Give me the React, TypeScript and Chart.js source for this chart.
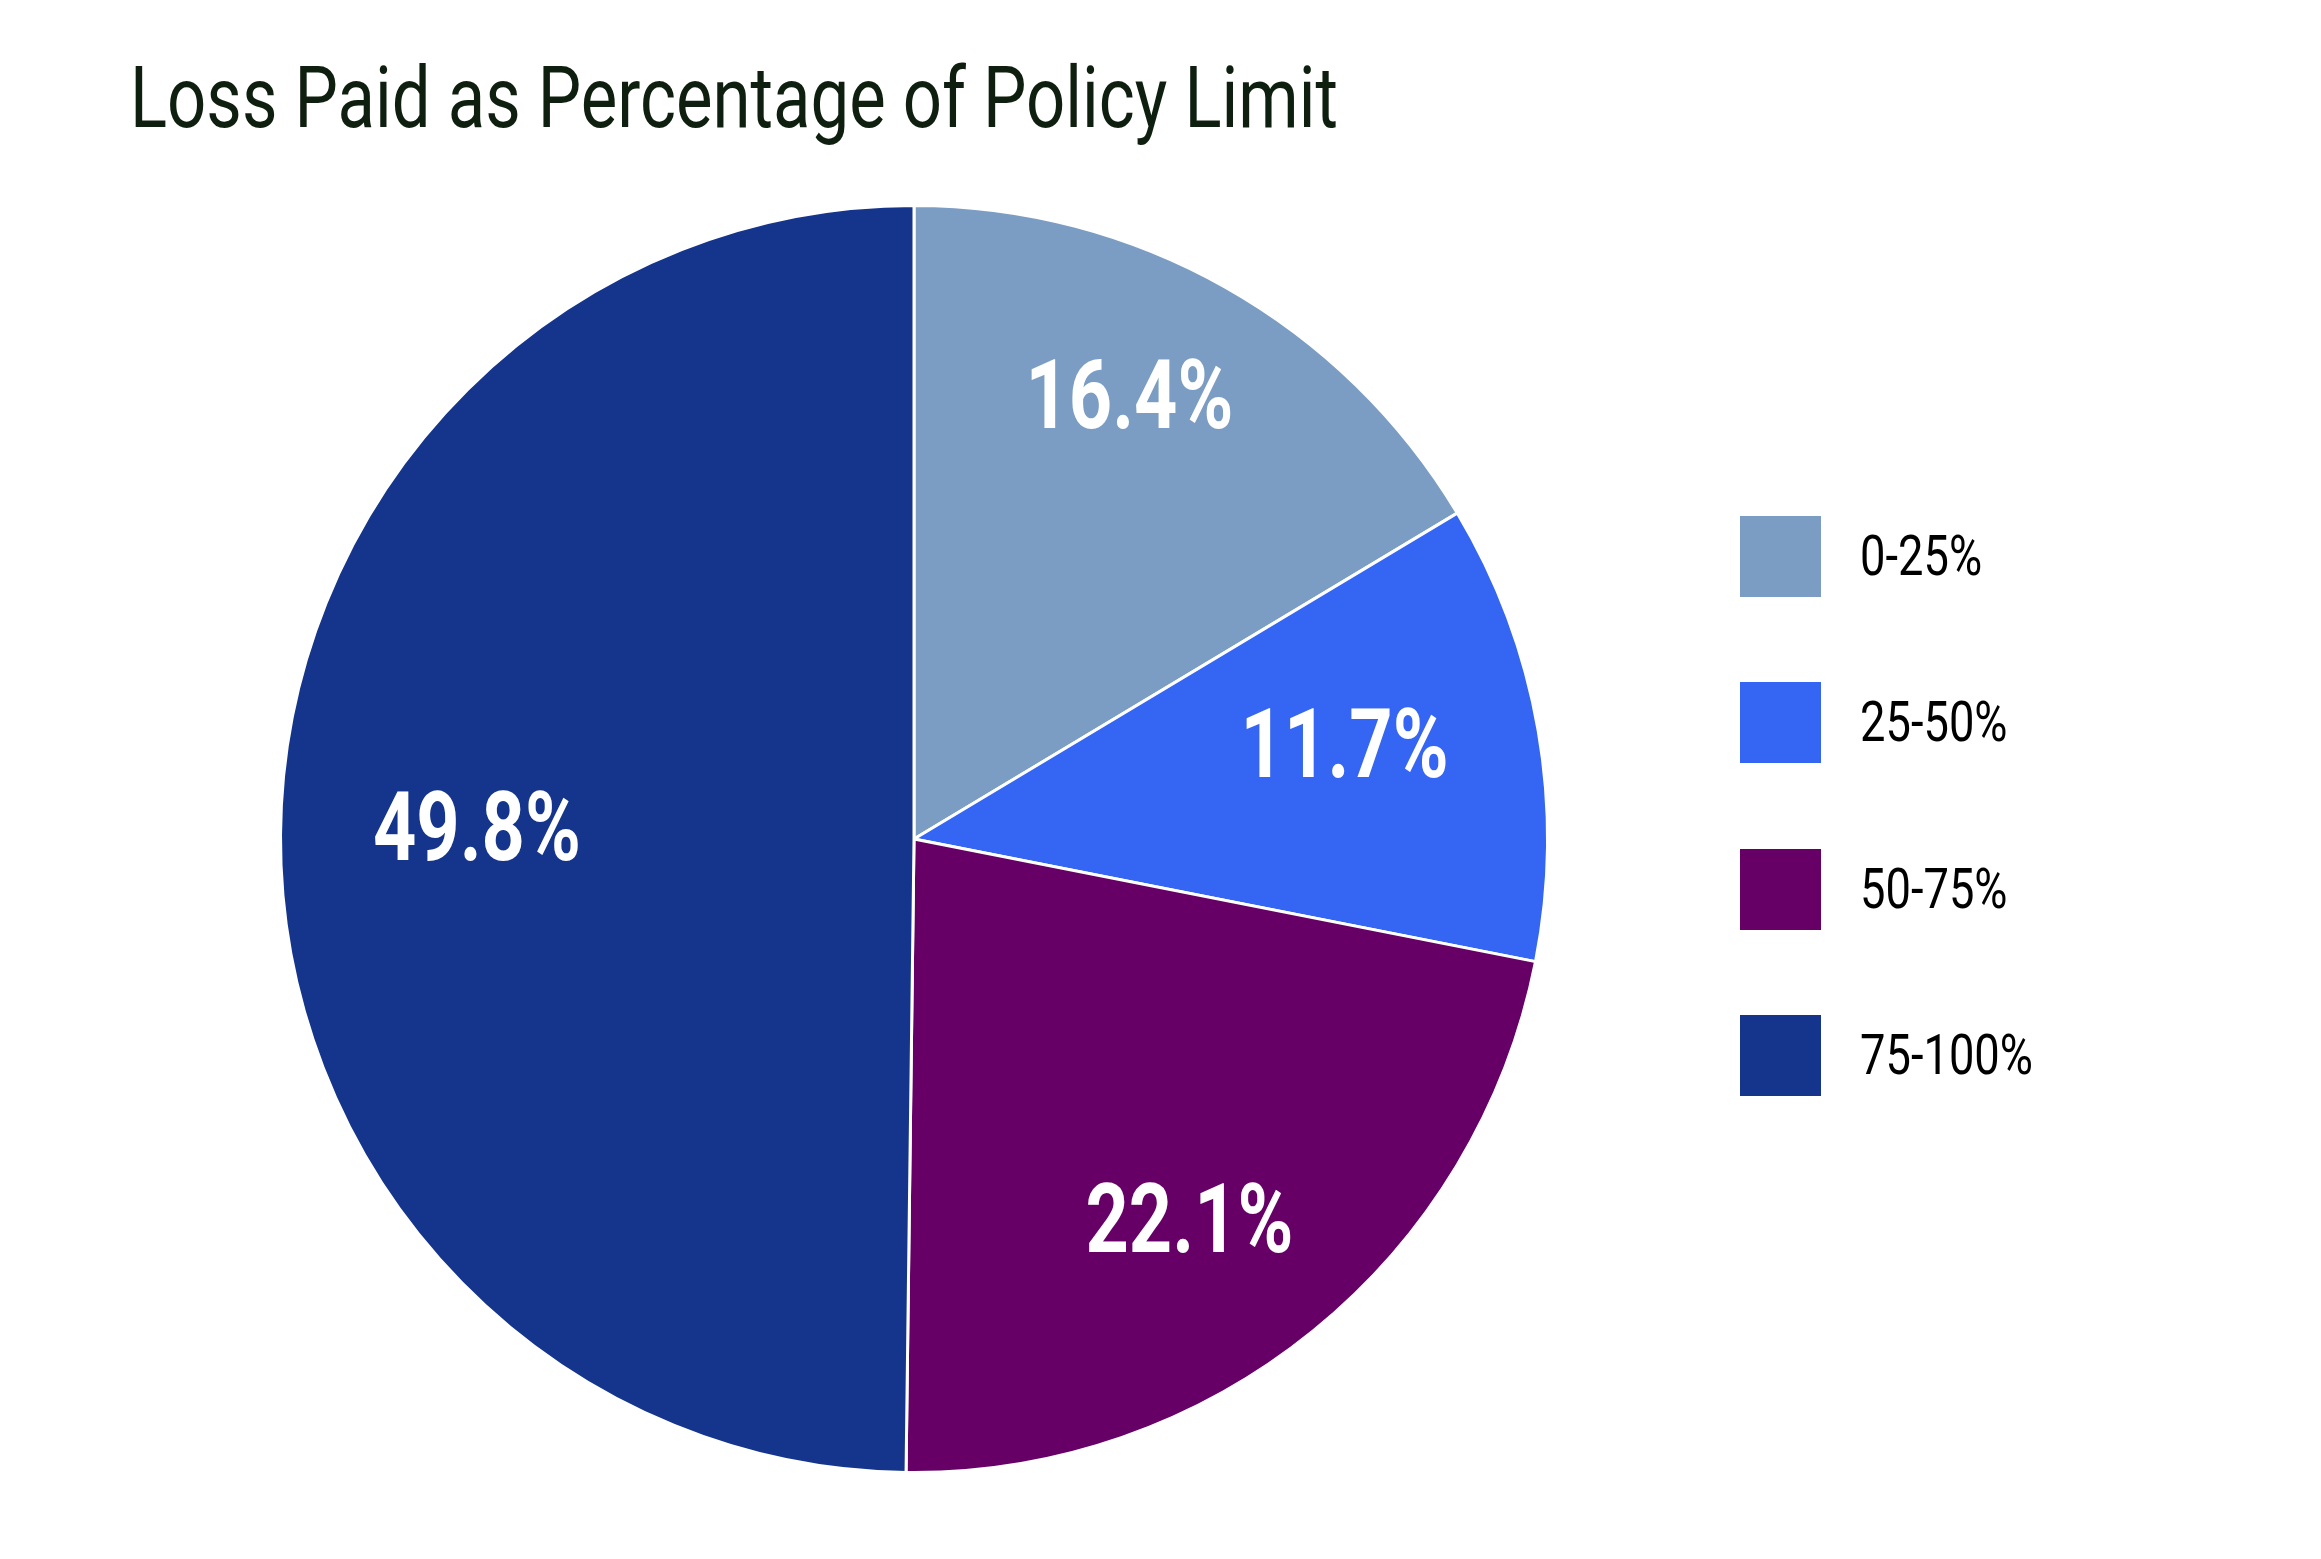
import { useEffect, useRef } from 'react';
import { Chart, registerables } from 'chart.js';

Chart.register(...registerables);

const title = 'Loss Paid as Percentage of Policy Limit';
const categories = ['0-25%', '25-50%', '50-75%', '75-100%'];
const shares = [16.4, 11.7, 22.1, 49.8];
const colors = ['#7b9dc3', '#3465f3', '#660066', '#14358b'];

const W = 2321;
const H = 1559;
const FONT = 'Roboto, "Noto Sans", sans-serif';
const LABEL_FONT = `bold 96px ${FONT}`;
const TITLE_FONT = `86px ${FONT}`;
const LEGEND_FONT = `56px ${FONT}`;

// horizontal squeeze so a regular face looks like the condensed one in the picture
function squeeze(text: string, font: string, target: number) {
  const c = document.createElement('canvas').getContext('2d');
  if (!c) return 1;
  c.font = font;
  return target / c.measureText(text).width;
}

// white percentage labels inside each slice (labels sit a bit further out vertically)
const sliceLabels = {
  id: 'sliceLabels',
  afterDatasetsDraw(chart: any) {
    const { ctx } = chart;
    const meta = chart.getDatasetMeta(0);
    ctx.save();
    ctx.font = LABEL_FONT;
    const sx = 208 / ctx.measureText('49.8%').width;
    ctx.fillStyle = '#ffffff';
    ctx.textAlign = 'center';
    ctx.textBaseline = 'middle';
    meta.data.forEach((arc: any, i: number) => {
      const { x, y, startAngle, endAngle, outerRadius } = arc.getProps(
        ['x', 'y', 'startAngle', 'endAngle', 'outerRadius'],
        true
      );
      const mid = (startAngle + endAngle) / 2;
      ctx.save();
      ctx.translate(x + Math.cos(mid) * outerRadius * 0.69, y + Math.sin(mid) * outerRadius * 0.79);
      ctx.scale(sx, 1);
      ctx.fillText(`${shares[i].toFixed(1)}%`, 0, 0);
      ctx.restore();
    });
    ctx.restore();
  },
};

export default function App() {
  const canvasRef = useRef<HTMLCanvasElement | null>(null);
  const chartRef = useRef<Chart | null>(null);

  useEffect(() => {
    const canvas = canvasRef.current;
    if (!canvas) return;
    const ctx = canvas.getContext('2d');
    if (!ctx) return;

    chartRef.current?.destroy();
    chartRef.current = new Chart(ctx, {
      type: 'pie',
      data: {
        labels: categories,
        datasets: [{
          data: shares,
          backgroundColor: colors,
          borderColor: '#ffffff',
          borderWidth: 3,
        }],
      },
      options: {
        responsive: false,
        animation: false,
        layout: { padding: { left: 279, right: 772, top: 204, bottom: 85 } },
        plugins: {
          legend: { display: false },
          tooltip: { enabled: false },
        },
      },
      plugins: [sliceLabels],
    });

    return () => {
      chartRef.current?.destroy();
      chartRef.current = null;
    };
  }, []);

  const titleScale = squeeze(title, TITLE_FONT, 1208);
  const legendScale = squeeze('75-100%', LEGEND_FONT, 173);

  return (
    <div style={{ position: 'absolute', left: 0, top: 0, width: W, height: H, background: '#fff', overflow: 'hidden' }}>
      <canvas ref={canvasRef} width={W} height={H} style={{ position: 'absolute', left: 0, top: 0, width: W, height: H }} />
      <div style={{
        position: 'absolute', left: 130, top: 55, font: TITLE_FONT, lineHeight: '86px',
        color: '#0f1f0f', whiteSpace: 'nowrap', transform: `scaleX(${titleScale})`, transformOrigin: 'left top',
      }}>
        {title}
      </div>
      {categories.map((c, i) => (
        <div key={c} style={{ position: 'absolute', left: 1740, top: 516 + i * 166.3, height: 81, display: 'flex', alignItems: 'center' }}>
          <div style={{ width: 81, height: 81, background: colors[i] }} />
          <span style={{
            marginLeft: 39, font: LEGEND_FONT, lineHeight: '81px', color: '#000', whiteSpace: 'nowrap',
            display: 'inline-block', transform: `scaleX(${legendScale})`, transformOrigin: 'left center',
          }}>
            {c}
          </span>
        </div>
      ))}
    </div>
  );
}
